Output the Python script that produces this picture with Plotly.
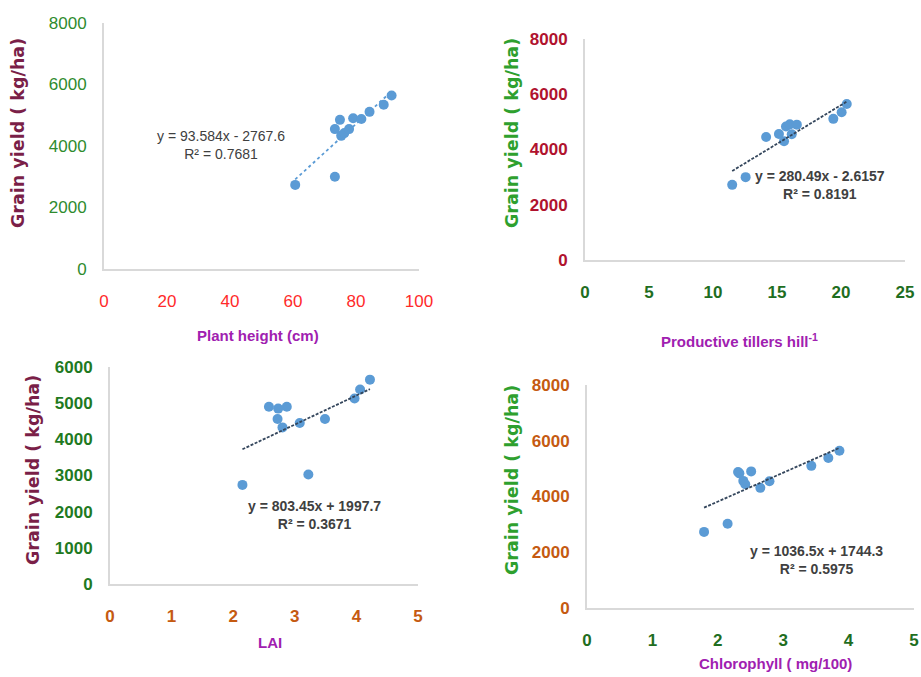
import plotly.graph_objects as go

# ---------------- data ----------------
height_cm = [60.7, 73.3, 73.3, 74.9, 75.3, 76.3, 77.8, 79.1, 81.7, 84.3, 88.8, 91.3]
yield_h = [2735, 3000, 4550, 4850, 4330, 4420, 4550, 4900, 4880, 5110, 5340, 5640]

tillers = [11.5, 12.55, 14.15, 15.15, 15.55, 15.7, 16.0, 16.15, 16.55, 19.4, 20.05, 20.45]
yield_t = [2720, 3000, 4450, 4560, 4300, 4830, 4910, 4550, 4900, 5110, 5350, 5650]

lai = [2.15, 2.58, 2.73, 2.72, 2.80, 2.87, 3.08, 3.22, 3.49, 3.97, 4.06, 4.22]
yield_l = [2740, 4900, 4850, 4560, 4330, 4900, 4450, 3030, 4560, 5130, 5380, 5650]

chl = [1.79, 2.15, 2.31, 2.33, 2.39, 2.42, 2.51, 2.65, 2.79, 3.43, 3.69, 3.86]
yield_c = [2730, 3020, 4880, 4830, 4560, 4440, 4900, 4310, 4550, 5100, 5380, 5640]

slopes = [93.584, 280.49, 803.45, 1036.5]
intercepts = [-2767.6, -2.6157, 1997.7, 1744.3]
equations = ["y = 93.584x - 2767.6<br>R² = 0.7681",
             "y = 280.49x - 2.6157<br>R² = 0.8191",
             "y = 803.45x + 1997.7<br>R² = 0.3671",
             "y = 1036.5x + 1744.3<br>R² = 0.5975"]
x_titles = ["Plant height (cm)", "Productive tillers hill<sup>-1</sup>", "LAI", "Chlorophyll ( mg/100)"]
y_title = "Grain yield ( kg/ha)"
x_ranges = [[0, 100], [0, 25], [0, 5], [0, 5]]
x_dticks = [20, 5, 1, 1]
y_ranges = [[0, 8000], [0, 8000], [0, 6000], [0, 8000]]
y_dticks = [2000, 2000, 1000, 2000]

W, H = 921, 677
FONT = "Liberation Sans, Arial, sans-serif"
MARK = "#5b9bd5"
AXLINE = "#d9d9d9"

# pixel boxes of plot areas: (left, right, top, bottom)
boxes = [(104, 419, 23, 269), (585, 905, 39, 260), (110, 418, 367, 584), (587, 914, 385, 608)]
ytick_col = ["#2e8b2e", "#b0122e", "#1f7a1f", "#c55a11"]
xtick_col = ["#ff2a2a", "#1f6e1f", "#c55a11", "#1f6e1f"]
ytitle_col = ["#7a1f48", "#2ea02e", "#7a1f48", "#2ea02e"]
tick_weight = ["normal", "bold", "bold", "bold"]
# label positions in pixels
ytitle_pos = [(18, 133), (512, 133), (33, 470), (512, 480)]
xtitle_pos = [(258, 335), (739, 340), (270, 642), (775, 663)]
eq_pos = [(221, 145), (820, 185), (314, 515), (816, 560)]
line_dash = ["dot", "3px,1.5px", "3px,1.5px", "3px,1.5px"]
line_col = [MARK, "#34465c", "#34465c", "#34465c"]

xs = [height_cm, tillers, lai, chl]
ys = [yield_h, yield_t, yield_l, yield_c]

fig = go.Figure()
layout = dict(width=W, height=H, margin=dict(l=0, r=0, t=0, b=0, autoexpand=False),
              paper_bgcolor="white", plot_bgcolor="white", showlegend=False)
annotations = []

for i in range(4):
    ax = "" if i == 0 else str(i + 1)
    l, r, t, b = boxes[i]
    layout["xaxis" + ax] = dict(
        domain=[l / W, r / W], range=x_ranges[i], dtick=x_dticks[i], anchor="y" + ax,
        showgrid=False, zeroline=False, showline=True, linecolor=AXLINE, linewidth=2,
        ticks="outside", ticklen=16, tickcolor="rgba(0,0,0,0)", automargin=False,
        tickfont=dict(family=FONT, size=17, color=xtick_col[i], weight=tick_weight[i]),
        fixedrange=True)
    layout["yaxis" + ax] = dict(
        domain=[1 - b / H, 1 - t / H], range=y_ranges[i], dtick=y_dticks[i], anchor="x" + ax,
        showgrid=False, zeroline=False, showline=True, linecolor=AXLINE, linewidth=2,
        ticks="outside", ticklen=12, tickcolor="rgba(0,0,0,0)", automargin=False,
        tickfont=dict(family=FONT, size=17, color=ytick_col[i], weight=tick_weight[i]),
        fixedrange=True)

    fig.add_trace(go.Scatter(x=xs[i], y=ys[i], mode="markers", xaxis="x" + ax, yaxis="y" + ax,
                             marker=dict(size=10, color=MARK)))
    x0, x1 = min(xs[i]), max(xs[i])
    fig.add_trace(go.Scatter(x=[x0, x1], y=[slopes[i] * x0 + intercepts[i], slopes[i] * x1 + intercepts[i]],
                             mode="lines", xaxis="x" + ax, yaxis="y" + ax,
                             line=dict(color=line_col[i], width=1.8, dash=line_dash[i])))

    common = dict(xref="paper", yref="paper", showarrow=False, xanchor="center", yanchor="middle")
    ex, ey = eq_pos[i]
    annotations.append(dict(x=ex / W, y=1 - ey / H, text=equations[i], align="center",
                            font=dict(family=FONT, size=14, color="#404040",
                                      weight="normal" if i == 0 else "bold"), **common))
    tx, ty = ytitle_pos[i]
    annotations.append(dict(x=tx / W, y=1 - ty / H, text=y_title, textangle=-90,
                            font=dict(family="DejaVu Sans", size=17.5, color=ytitle_col[i],
                                      weight="bold"), **common))
    xx, xy = xtitle_pos[i]
    annotations.append(dict(x=xx / W, y=1 - xy / H, text=x_titles[i],
                            font=dict(family=FONT, size=15, color="#a020b0", weight="bold"), **common))

layout["annotations"] = annotations
fig.update_layout(**layout)
fig.write_html("out.html", config={"displayModeBar": False},
               post_script="document.body.style.margin='0';")
